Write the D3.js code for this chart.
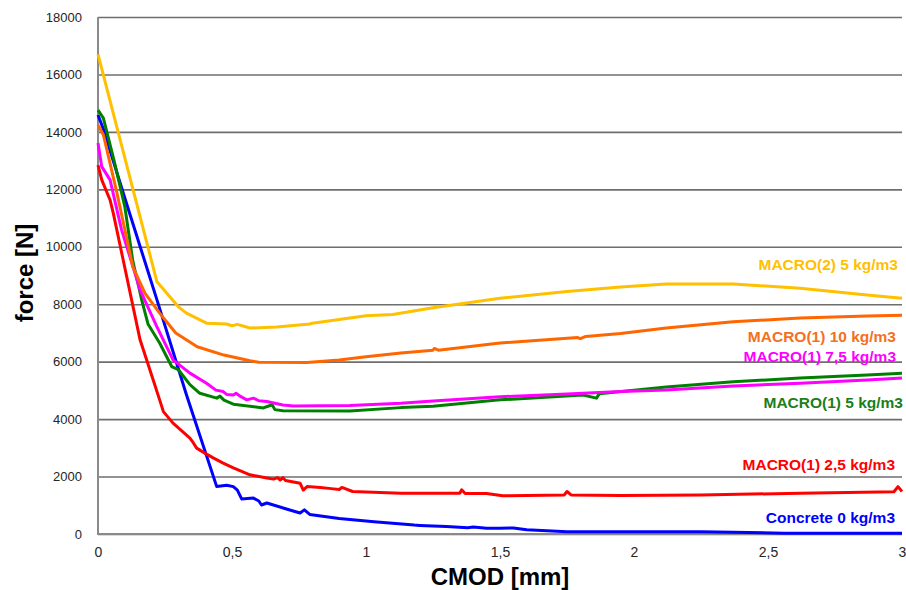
<!DOCTYPE html>
<html>
<head>
<meta charset="utf-8">
<script src="https://cdn.jsdelivr.net/npm/d3@7"></script>
<style>
  body { margin: 0; background: #fff; }
  svg { display: block; font-family: "Liberation Sans", Arial, sans-serif; }
</style>
</head>
<body>
<svg id="chart"></svg>
<script>
// CMOD [mm] vs force [N]
const concrete = [[0,14590],[0.02,14100],[0.1,11700],[0.22,8150],[0.33,4850],[0.443,1650],[0.48,1700],[0.505,1650],[0.52,1530],[0.536,1220],[0.58,1250],[0.6,1150],[0.61,1010],[0.63,1080],[0.7,880],[0.754,730],[0.77,840],[0.79,680],[0.9,540],[1.03,430],[1.18,310],[1.2,300],[1.25,280],[1.3,260],[1.38,220],[1.4,240],[1.45,200],[1.5,200],[1.55,210],[1.6,150],[1.75,80],[1.95,80],[2.25,80],[2.56,30],[3,30]];
const macro1_25 = [[0,12840],[0.014,12330],[0.045,11630],[0.057,11170],[0.094,9540],[0.157,6760],[0.206,5360],[0.23,4670],[0.244,4260],[0.28,3860],[0.343,3340],[0.356,3170],[0.368,2990],[0.405,2780],[0.43,2650],[0.467,2470],[0.505,2300],[0.567,2060],[0.63,1950],[0.655,1910],[0.67,1960],[0.68,1880],[0.69,1960],[0.7,1860],[0.754,1770],[0.766,1530],[0.78,1650],[0.83,1620],[0.87,1580],[0.9,1550],[0.91,1620],[0.95,1480],[1.13,1420],[1.35,1420],[1.357,1540],[1.37,1410],[1.45,1410],[1.51,1330],[1.74,1360],[1.75,1480],[1.765,1360],[1.95,1340],[2.25,1360],[2.62,1420],[2.97,1470],[2.985,1650],[3,1480]];
const macro1_5 = [[0,14760],[0.02,14480],[0.06,13000],[0.1,11400],[0.13,9500],[0.163,8150],[0.187,7300],[0.23,6650],[0.275,5830],[0.3,5720],[0.343,5200],[0.38,4900],[0.443,4730],[0.455,4800],[0.47,4660],[0.505,4520],[0.617,4390],[0.65,4500],[0.66,4330],[0.69,4290],[0.94,4280],[1.13,4400],[1.25,4450],[1.5,4670],[1.81,4840],[1.86,4730],[1.87,4880],[2.12,5120],[2.37,5300],[2.62,5430],[2.87,5540],[3,5600]];
const macro1_75 = [[0,13610],[0.014,12790],[0.045,12330],[0.088,10590],[0.157,8500],[0.219,7230],[0.28,6060],[0.343,5600],[0.405,5250],[0.44,5010],[0.467,4960],[0.48,4860],[0.505,4840],[0.515,4900],[0.53,4800],[0.555,4670],[0.58,4730],[0.6,4640],[0.63,4610],[0.69,4490],[0.73,4460],[0.94,4470],[1.13,4550],[1.25,4630],[1.5,4780],[1.75,4870],[1.95,4960],[2.12,5010],[2.37,5150],[2.62,5250],[2.87,5360],[3,5430]];
const macro1_10 = [[0,14240],[0.02,13900],[0.07,11900],[0.13,9300],[0.175,8390],[0.23,7690],[0.29,7000],[0.37,6520],[0.47,6230],[0.567,6030],[0.6,5980],[0.78,5970],[0.9,6060],[1.0,6170],[1.13,6300],[1.25,6400],[1.255,6460],[1.27,6400],[1.5,6650],[1.79,6840],[1.8,6800],[1.82,6880],[1.95,6980],[2.12,7170],[2.37,7390],[2.62,7520],[2.87,7590],[3,7620]];
const macro2_5 = [[0,16700],[0.22,8780],[0.3,7910],[0.33,7690],[0.405,7340],[0.48,7310],[0.5,7250],[0.52,7300],[0.567,7170],[0.667,7210],[0.79,7310],[0.8,7340],[1.0,7600],[1.1,7640],[1.25,7880],[1.5,8210],[1.75,8440],[1.95,8600],[2.12,8700],[2.37,8700],[2.62,8560],[2.87,8320],[3,8210]];

const seriesNames = ["Concrete 0 kg/m3", "MACRO(1) 2,5 kg/m3", "MACRO(1) 5 kg/m3", "MACRO(1) 7,5 kg/m3", "MACRO(1) 10 kg/m3", "MACRO(2) 5 kg/m3"];
const seriesData = [concrete, macro1_25, macro1_5, macro1_75, macro1_10, macro2_5];
const xTicks = [0, 0.5, 1, 1.5, 2, 2.5, 3];
const yTicks = [0, 2000, 4000, 6000, 8000, 10000, 12000, 14000, 16000, 18000];

const colors = ["#0000ff", "#ff0000", "#008000", "#ff00ff", "#ff6600", "#ffc000"];
const labelColors = ["#0000ff", "#ff0000", "#1a7f1a", "#ff00ff", "#f5701e", "#ffc000"];
// label baselines (px) and right edges
const labelBase = [523, 470, 408, 362, 342, 270];
const labelRight = [895, 895, 903, 896, 896, 898];

const width = 906, height = 590;
const margin = { top: 17, right: 4, bottom: 56, left: 98 };

const svg = d3.select("#chart").attr("width", width).attr("height", height);

const x = d3.scaleLinear().domain([0, 3]).range([margin.left, width - margin.right]);
const y = d3.scaleLinear().domain([0, 18000]).range([height - margin.bottom, margin.top]);

const loc = d3.formatLocale({ decimal: ",", thousands: "", grouping: [3], currency: ["", ""] });
const fmt = loc.format("~g");

// gridlines + y labels
svg.append("g")
  .attr("transform", `translate(${margin.left},0)`)
  .call(d3.axisLeft(y).tickValues(yTicks).tickFormat(d3.format("d")).tickSize(-(width - margin.right - margin.left)).tickPadding(16))
  .call(g => g.select(".domain").remove())
  .call(g => g.selectAll(".tick line").attr("stroke", "#6e6e6e").attr("stroke-width", 1.6))
  .call(g => g.selectAll(".tick text").attr("fill", "#262626").style("font-size", "13px").style("font-family", "'Liberation Sans', Arial, sans-serif"));

// x labels
svg.append("g")
  .attr("transform", `translate(0,${height - margin.bottom})`)
  .call(d3.axisBottom(x).tickValues(xTicks).tickFormat(fmt).tickSize(0).tickPadding(13))
  .call(g => g.select(".domain").remove())
  .call(g => g.selectAll(".tick text").attr("fill", "#262626").style("font-size", "14px").style("font-family", "'Liberation Sans', Arial, sans-serif"));

// axis lines
svg.append("line")
  .attr("x1", x(0)).attr("x2", x(0)).attr("y1", y(18000)).attr("y2", y(0))
  .attr("stroke", "#8a8a8a").attr("stroke-width", 2);
svg.append("line")
  .attr("x1", x(0) - 1).attr("x2", x(3)).attr("y1", y(0)).attr("y2", y(0))
  .attr("stroke", "#8a8a8a").attr("stroke-width", 2);

const line = d3.line().x(d => x(d[0])).y(d => y(d[1]));

svg.append("g").selectAll("path")
  .data(seriesData)
  .enter().append("path")
  .attr("d", line)
  .attr("fill", "none")
  .attr("stroke", (d, i) => colors[i])
  .attr("stroke-width", 3)
  .attr("stroke-linejoin", "round");

svg.append("g").selectAll("text")
  .data(seriesNames)
  .enter().append("text")
  .text(d => d)
  .attr("x", (d, i) => labelRight[i])
  .attr("y", (d, i) => labelBase[i])
  .attr("text-anchor", "end")
  .attr("fill", (d, i) => labelColors[i])
  .style("font-size", "15.5px")
  .style("font-weight", "bold");

// axis titles
svg.append("text")
  .text("CMOD [mm]")
  .attr("x", 500).attr("y", 585)
  .attr("text-anchor", "middle")
  .style("font-size", "24px")
  .style("font-weight", "bold");

svg.append("text")
  .text("force [N]")
  .attr("transform", "translate(33,273) rotate(-90)")
  .attr("text-anchor", "middle")
  .style("font-size", "24px")
  .style("font-weight", "bold");
</script>
</body>
</html>
